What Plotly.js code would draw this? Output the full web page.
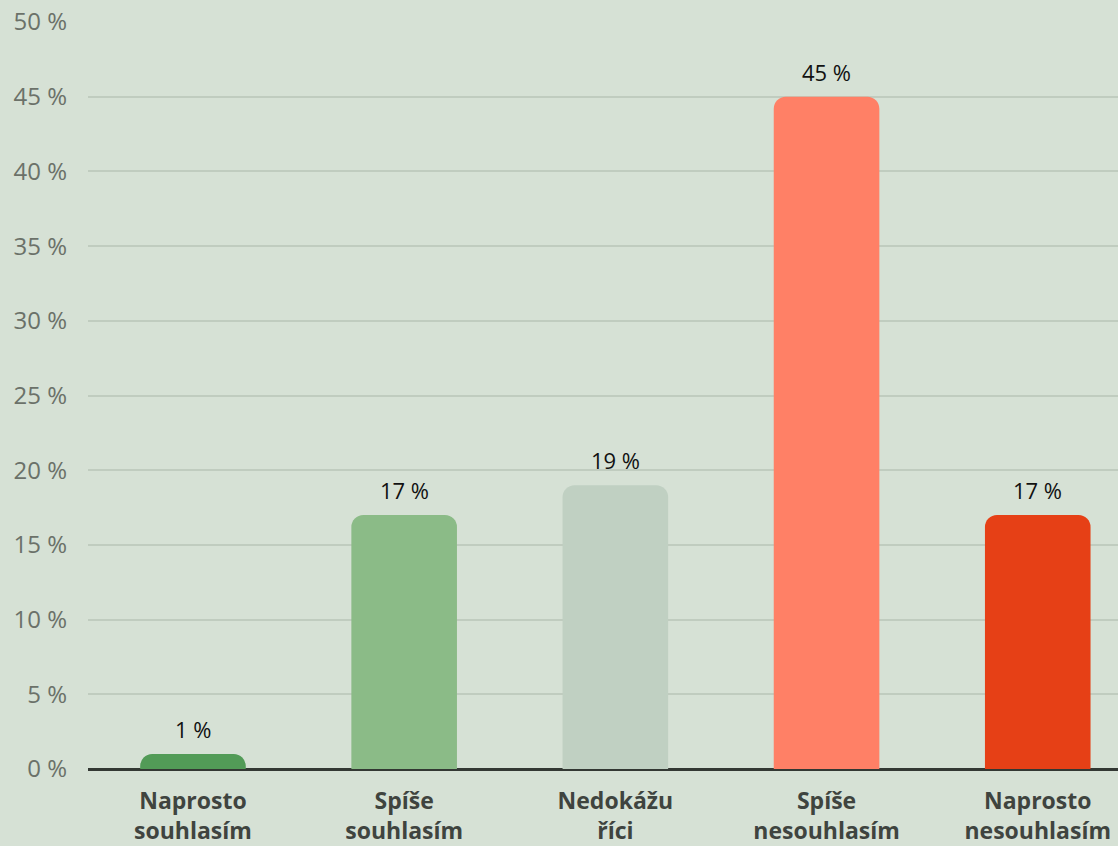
<!DOCTYPE html>
<html><head><meta charset="utf-8">
<script src="https://cdn.plot.ly/plotly-3.0.1.min.js"></script>
<style>html,body{margin:0;padding:0;background:#d6e1d5;}#c{width:1118px;height:846px;}</style>
</head><body><div id="c"></div>
<script>
const categories = ["Naprosto<br>souhlasím","Spíše<br>souhlasím","Nedokážu<br>říci","Spíše<br>nesouhlasím","Naprosto<br>nesouhlasím"];
const values = [1, 17, 19, 45, 17];
const labels = ["1 %","17 %","19 %","45 %","17 %"];
const colors = ["#529b57","#8bbb87","#c0d0c2","#ff8066","#e64016"];
const yTickVals = [0,5,10,15,20,25,30,35,40,45,50];
const yTickText = yTickVals.map(v => v + " %");
const xIdx = categories.map((c,i)=>i);

const annotations = xIdx.map(i => ({
  x:i, y:values[i], xref:'x', yref:'y', text:labels[i], showarrow:false,
  yanchor:'bottom', yshift:8, font:{family:'Open Sans', size:22, color:'#111'}
}));

Plotly.newPlot('c', [{
  type:'bar', x:xIdx, y:values, width:0.5,
  marker:{color:colors, cornerradius:12},
  hoverinfo:'none'
}], {
  width:1118, height:846,
  paper_bgcolor:'#d6e1d5', plot_bgcolor:'#d6e1d5',
  margin:{l:88, r:0, t:22, b:77},
  font:{family:'Open Sans'},
  showlegend:false,
  annotations:annotations,
  xaxis:{range:[-0.497,4.38], tickvals:xIdx, ticktext:categories, showgrid:false, zeroline:false,
    tickfont:{family:'Open Sans', size:23, color:'#3f443f', weight:'bold'}, ticks:'', ticklabelstandoff:16},
  yaxis:{range:[0,50], tickvals:yTickVals, ticktext:yTickText, showgrid:true, gridcolor:'#c0ccbf', gridwidth:2,
    zeroline:true, zerolinecolor:'#333833', zerolinewidth:3,
    tickfont:{family:'Open Sans', size:24, color:'#6b7169'}, ticks:'', ticklabelstandoff:20}
}, {staticPlot:true});
</script></body></html>
